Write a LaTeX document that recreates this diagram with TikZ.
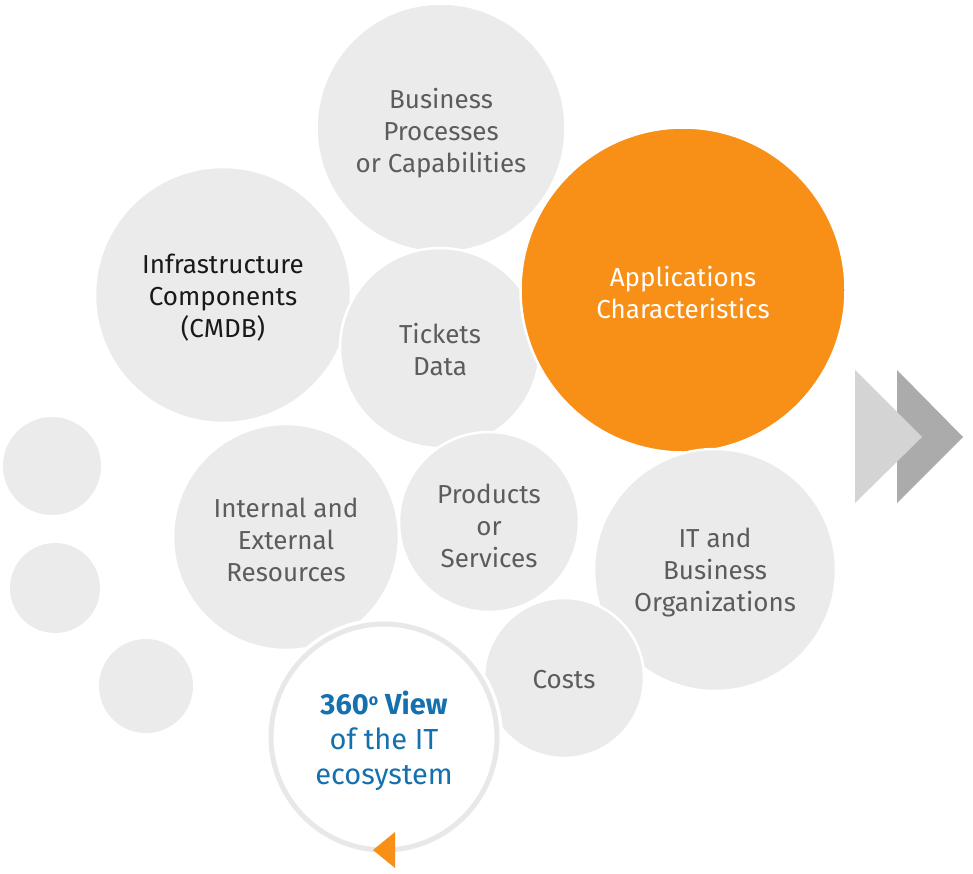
\documentclass[tikz,border=0pt]{standalone}
\usepackage{fontspec}
\setmainfont{Fira Sans}
\definecolor{bub}{HTML}{EBEBEB}
\definecolor{txt}{HTML}{5C5C5C}
\definecolor{org}{HTML}{F88F17}
\definecolor{blu}{HTML}{1570AE}
\definecolor{triA}{HTML}{D4D4D4}
\definecolor{triB}{HTML}{ABABAB}
\definecolor{ringc}{HTML}{E8E8E8}
\tikzset{
  bubble/.style={circle, fill=bub, draw=white, line width=2.5pt, inner sep=0pt},
  lbl/.style={inner sep=0pt, text=txt, align=center, font=\fontsize{26}{32}\selectfont},
  dot/.style={circle, fill=bub, inner sep=0pt},
}
\begin{document}
\begin{tikzpicture}[x=1pt,y=-1pt]
\useasboundingbox (0,0) rectangle (973,873);
% small dots
\node[dot, minimum size=98pt] (d1) at (52,466) {};
\node[dot, minimum size=90pt] (d2) at (55,588) {};
\node[dot, minimum size=94pt] (d3) at (146,686) {};
% arrows
\fill[triB] (897,370) -- (963,437) -- (897,503) -- cycle;
\fill[triA] (855,370) -- (922,437) -- (855,503) -- cycle;
% bubbles
\node[bubble, minimum size=249pt] (bp) at (441,128) {};
\node[bubble, minimum size=256pt] (inf) at (223,295) {};
\node[bubble, minimum size=200pt] (tk) at (440,348) {};
\node[bubble, minimum size=325pt, fill=org] (app) at (683,290) {};
\node[bubble, minimum size=226pt] (ie) at (286,537) {};
\node[bubble, minimum size=180pt] (ps) at (489,522) {};
\node[bubble, minimum size=242pt] (it) at (715,570) {};
\node[bubble, minimum size=160pt] (co) at (564,678) {};
% labels
\node[lbl] (bpt) at (441,133) {Business\\Processes\\or Capabilities};
\node[lbl, text=black!90] (inft) at (223,298) {Infrastructure\\Components\\(CMDB)};
\node[lbl] (tkt) at (440,350) {Tickets\\Data};
\node[lbl, text=white] (appt) at (683,293) {Applications\\Characteristics};
\node[lbl] (iet) at (286,540) {Internal and\\External\\Resources};
\node[lbl] (pst) at (489,526) {Products\\or\\Services};
\node[lbl] (itt) at (715,573) {IT and\\Business\\Organizations};
\node[lbl] (cot) at (564,680) {Costs};
% 360 ring
\fill[white] (384,737) circle (119);
\node[circle, draw=ringc, line width=5pt, fill=white, minimum size=226pt, inner sep=0pt] (v) at (384,737) {};
\node[inner sep=0pt, text=blu, align=center, font=\fontsize{29}{35}\selectfont] (vt) at (384,741)
  {\textbf{360\raisebox{0.62ex}{\fontsize{16}{16}\selectfont o} View}\\of the IT\\ecosystem};
\fill[org] (395,832) -- (373,850) -- (395,868) -- cycle;
\end{tikzpicture}
\end{document}
